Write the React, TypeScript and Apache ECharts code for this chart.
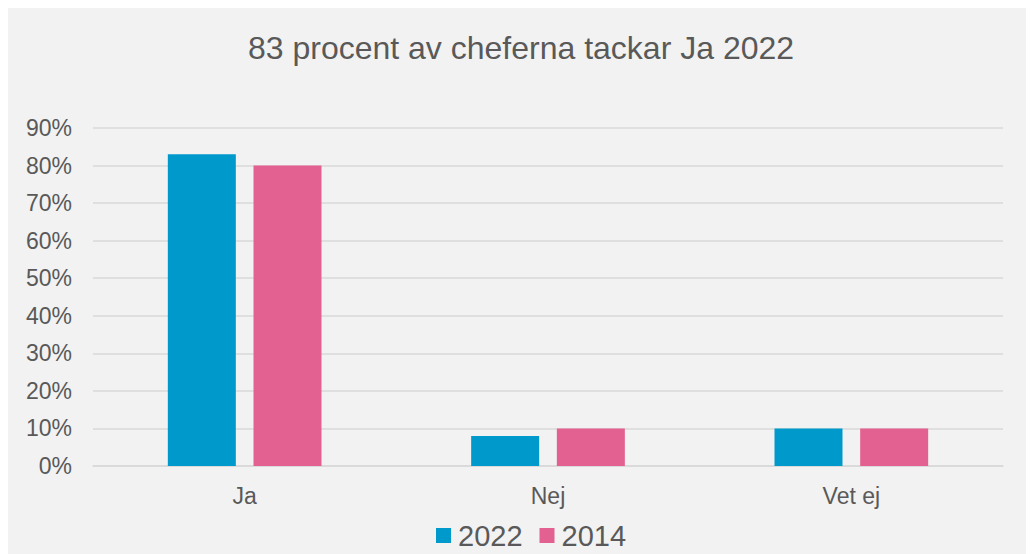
import React, { useEffect, useRef } from "react";
import * as echarts from "echarts";

const categories = ["Ja", "Nej", "Vet ej"];
const values2022 = [83, 8, 10];
const values2014 = [80, 10, 10];
const seriesNames = ["2022", "2014"];

export default function App() {
  const ref = useRef<HTMLDivElement>(null);
  useEffect(() => {
    document.body.style.overflow = "hidden";
    const chart = echarts.init(ref.current!, null, { renderer: "svg" });
    const font = "'Liberation Sans', Arial, sans-serif";
    chart.setOption({
      animation: false,
      backgroundColor: "#f2f2f2",
      textStyle: { fontFamily: font },
      title: {
        text: "83 procent av cheferna tackar Ja 2022",
        left: "center",
        top: 19,
        textStyle: { fontSize: 32, fontWeight: "normal", color: "#595959", fontFamily: font },
      },
      legend: {
        data: seriesNames,
        top: 513,
        left: 428,
        itemWidth: 15,
        itemHeight: 15,
        itemGap: 17,
        icon: "rect",
        padding: 0,
        textStyle: { fontSize: 29, color: "#595959", fontFamily: font, padding: [0, 0, 0, 2] },
      },
      grid: { left: 85, right: 31, top: 120, bottom: 88, containLabel: false },
      xAxis: {
        type: "category",
        data: categories,
        axisLine: { lineStyle: { color: "#d9d9d9", width: 1.5 } },
        axisTick: { show: false },
        axisLabel: { fontSize: 23, color: "#595959", margin: 18, fontFamily: font },
      },
      yAxis: {
        type: "value",
        min: 0,
        max: 90,
        interval: 10,
        axisLabel: { formatter: "{value}%", fontSize: 23, color: "#595959", margin: 21, fontFamily: font },
        splitLine: { lineStyle: { color: "#d9d9d9", width: 1.5 } },
        axisLine: { show: false },
        axisTick: { show: false },
      },
      series: [
        {
          name: seriesNames[0],
          type: "bar",
          data: values2022,
          barWidth: 68,
          barGap: "26%",
          itemStyle: { color: "#0099CC" },
        },
        {
          name: seriesNames[1],
          type: "bar",
          data: values2014,
          barWidth: 68,
          itemStyle: { color: "#E36190" },
        },
      ],
    });
    return () => chart.dispose();
  }, []);
  return <div ref={ref} style={{ width: 1026, height: 546 }} />;
}
